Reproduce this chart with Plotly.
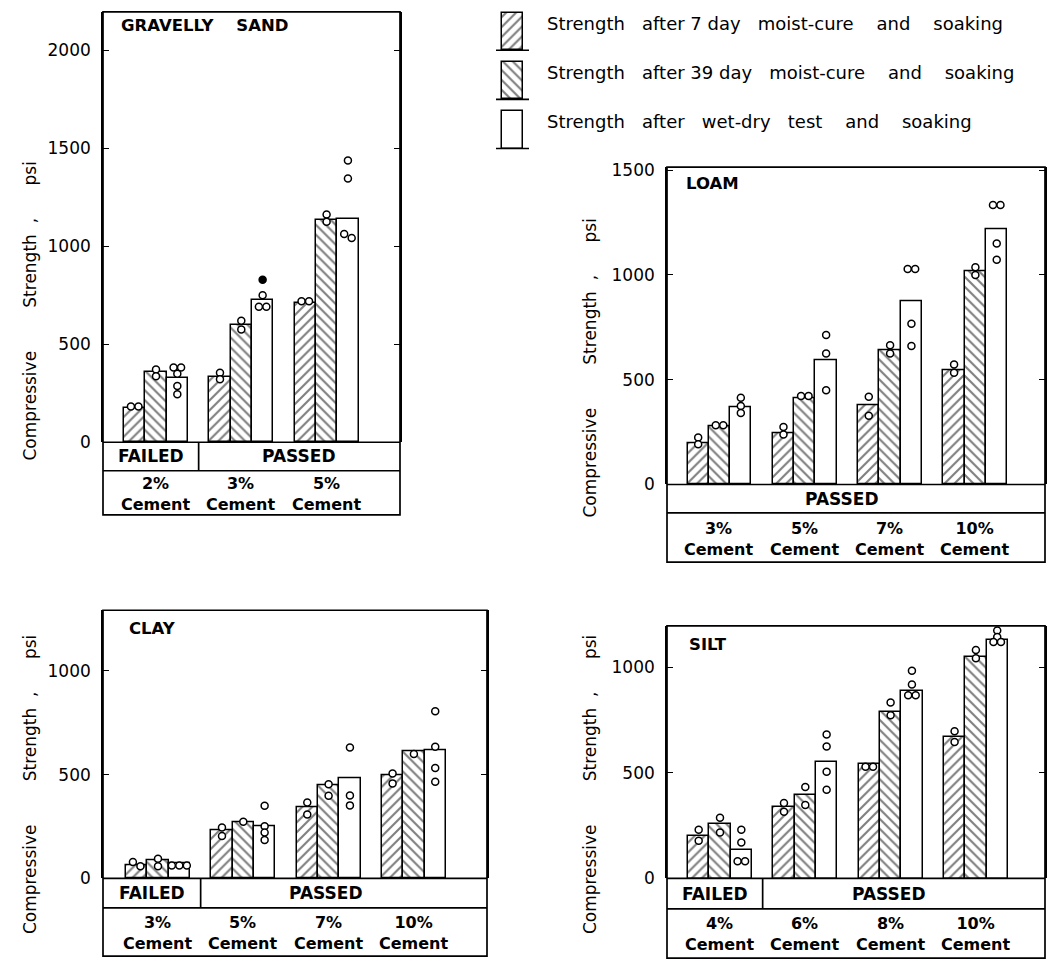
import plotly.graph_objects as go

W, H = 1061, 970

# ---------------- data ----------------
NB = "\u00a0"
legend_labels = [
    f"Strength{NB*3}after 7{NB}day{NB*3}moist-cure{NB*4}and{NB*4}soaking",
    f"Strength{NB*3}after 39{NB}day{NB*3}moist-cure{NB*4}and{NB*4}soaking",
    f"Strength{NB*3}after{NB*3}wet-dry{NB*3}test{NB*4}and{NB*4}soaking",
]
y_title = f"Compressive{NB*8}Strength{NB*2},{NB*6}psi"

gs_name = f"GRAVELLY{NB*4}SAND"
gs_cement = ["2%", "3%", "5%"]
gs_status = ["FAILED", "PASSED", "PASSED"]
gs_ticks = [0, 500, 1000, 1500, 2000]
gs_7d = [175, 332, 712]
gs_39d = [360, 600, 1134]
gs_wd = [327, 728, 1138]
gs_7d_pts = [[182, 182], [355, 322], [720, 720]]
gs_39d_pts = [[371, 337], [620, 575], [1163, 1126]]
gs_wd_pts = [[382, 382, 350, 287, 245], [750, 692, 692], [1439, 1347, 1063, 1043]]
gs_wd_filled = [[], [829], []]

loam_name = "LOAM"
loam_cement = ["3%", "5%", "7%", "10%"]
loam_status = ["PASSED", "PASSED", "PASSED", "PASSED"]
loam_ticks = [0, 500, 1000, 1500]
loam_7d = [197, 244, 380, 547]
loam_39d = [278, 414, 642, 1020]
loam_wd = [367, 591, 877, 1216]
loam_7d_pts = [[224, 192], [274, 239], [419, 328], [572, 533]]
loam_39d_pts = [[283, 283], [422, 422], [664, 625], [1036, 1000]]
loam_wd_pts = [[414, 375, 341], [713, 625, 450], [1028, 1028, 767, 661], [1333, 1333, 1150, 1072]]

clay_name = "CLAY"
clay_cement = ["3%", "5%", "7%", "10%"]
clay_status = ["FAILED", "PASSED", "PASSED", "PASSED"]
clay_ticks = [0, 500, 1000]
clay_7d = [66, 232, 343, 497]
clay_39d = [90, 273, 447, 615]
clay_wd = [74, 252, 485, 620]
clay_7d_pts = [[79, 59], [245, 205], [366, 308], [505, 458]]
clay_39d_pts = [[95, 59], [273], [454, 398], [600]]
clay_wd_pts = [[62, 62, 62], [350, 252, 221, 185], [631, 399, 352], [805, 634, 532, 466]]

silt_name = "SILT"
silt_cement = ["4%", "6%", "8%", "10%"]
silt_status = ["FAILED", "PASSED", "PASSED", "PASSED"]
silt_ticks = [0, 500, 1000]
silt_7d = [203, 340, 545, 673]
silt_39d = [257, 397, 787, 1051]
silt_wd = [133, 553, 891, 1133]
silt_7d_pts = [[231, 179], [358, 316], [530, 530], [698, 647]]
silt_39d_pts = [[288, 218], [433, 348], [834, 774], [1083, 1044]]
silt_wd_pts = [[231, 171, 81, 81], [682, 626, 506, 421], [985, 919, 868, 868], [1175, 1145, 1121, 1121]]

# ---------------- geometry (pixels) ----------------
SPACING = 85.3
panels = [
    dict(name=gs_name, cement=gs_cement, status=gs_status, ticks=gs_ticks,
         bars=[gs_7d, gs_39d, gs_wd], pts=[gs_7d_pts, gs_39d_pts, gs_wd_pts], filled=gs_wd_filled,
         left=103, right=400, top=5, base=443, row1=472, bottom=517, ymax=2197, c0=156,
         title_xy=(119, 19), ytitle_xy=(30, 310), passed_x=299),
    dict(name=loam_name, cement=loam_cement, status=loam_status, ticks=loam_ticks,
         bars=[loam_7d, loam_39d, loam_wd], pts=[loam_7d_pts, loam_39d_pts, loam_wd_pts], filled=None,
         left=667, right=1045, top=163, base=486, row1=515, bottom=565, ymax=1514, c0=719.5,
         title_xy=(684, 180), ytitle_xy=(590, 368), passed_x=842),
    dict(name=clay_name, cement=clay_cement, status=clay_status, ticks=clay_ticks,
         bars=[clay_7d, clay_39d, clay_wd], pts=[clay_7d_pts, clay_39d_pts, clay_wd_pts], filled=None,
         left=103, right=487, top=614, base=887, row1=917, bottom=966, ymax=1292, c0=158,
         title_xy=(127, 633), ytitle_xy=(30, 792), passed_x=326),
    dict(name=silt_name, cement=silt_cement, status=silt_status, ticks=silt_ticks,
         bars=[silt_7d, silt_39d, silt_wd], pts=[silt_7d_pts, silt_39d_pts, silt_wd_pts], filled=None,
         left=667, right=1045, top=630, base=887, row1=918, bottom=968, ymax=1197, c0=720,
         title_xy=(687, 649), ytitle_xy=(590, 792), passed_x=889),
]

FONT = "DejaVu Sans"
BAR_W = 0.25
OFFSETS = [-0.25, 0.0, 0.25]
PATTERNS = ["/", "\\", ""]
MARK = 7.0
PAT_SIZE = 7
PAT_SOLID = 0.3


def fx(px):
    return px / W


def fy(py):
    return 1 - py / H


def spread(vals, xc, ppp):
    """Place points of one bar: near-equal values side by side, others stacked."""
    vs = sorted(vals, reverse=True)
    clusters = []
    for v in vs:
        if clusters and abs(clusters[-1][-1] - v) * ppp < 4.5:
            clusters[-1].append(v)
        else:
            clusters.append([v])
    xs, ys = [], []
    step = (MARK + 0.5) / SPACING
    for c in clusters:
        n = len(c)
        for k, v in enumerate(c):
            xs.append(xc + (k - (n - 1) / 2) * step)
            ys.append(v)
    return xs, ys


fig = go.Figure()
shapes = []
annotations = []
layout_axes = {}

for i, p in enumerate(panels, start=1):
    xa = f"x{i}"
    ya = f"y{i}"
    ppp = (p["base"] - p["top"]) / p["ymax"]
    n = len(p["cement"])
    groups = list(range(n))
    # bars
    for s in range(3):
        pat = dict(shape=PATTERNS[s], fgcolor="black", bgcolor="white", size=PAT_SIZE, solidity=PAT_SOLID)
        fig.add_trace(go.Bar(
            x=[g + OFFSETS[s] for g in groups], y=p["bars"][s], width=BAR_W,
            xaxis=xa, yaxis=ya, showlegend=False,
            marker=dict(color="white", line=dict(color="black", width=1.5), pattern=pat),
        ))
    # individual test points
    for s in range(3):
        for g in groups:
            xs, ys = spread(p["pts"][s][g], g + OFFSETS[s], ppp)
            fig.add_trace(go.Scatter(
                x=xs, y=ys, mode="markers", xaxis=xa, yaxis=ya, showlegend=False,
                marker=dict(symbol="circle", size=MARK, color="white",
                            line=dict(color="black", width=1.5)),
            ))
    if p["filled"]:
        for g in groups:
            if p["filled"][g]:
                fig.add_trace(go.Scatter(
                    x=[g + OFFSETS[2]] * len(p["filled"][g]), y=p["filled"][g], mode="markers",
                    xaxis=xa, yaxis=ya, showlegend=False,
                    marker=dict(symbol="circle", size=MARK, color="black",
                                line=dict(color="black", width=1.5)),
                ))
    # axes
    x0 = (p["left"] - p["c0"]) / SPACING
    x1 = (p["right"] - p["c0"]) / SPACING
    key = "" if i == 1 else str(i)
    layout_axes["xaxis" + key] = dict(
        domain=[fx(p["left"]), fx(p["right"])], range=[x0, x1], anchor=ya,
        showticklabels=False, showgrid=False, zeroline=False, ticks="", showline=False,
        fixedrange=True,
    )
    layout_axes["yaxis" + key] = dict(
        domain=[fy(p["base"]), fy(p["top"])], range=[0, p["ymax"]], anchor=xa,
        tickvals=p["ticks"], ticktext=[str(t) for t in p["ticks"]],
        ticks="inside", ticklen=6, tickwidth=1.3, tickcolor="black",
        showline=True, linecolor="black", linewidth=1.6, mirror="ticks",
        showgrid=False, zeroline=False, ticklabelstandoff=7,
        tickfont=dict(family=FONT, size=17, color="black"), fixedrange=True,
    )
    # frame + table
    L, R = fx(p["left"]), fx(p["right"])
    line = dict(color="black", width=1.7)
    shapes.append(dict(type="rect", xref="paper", yref="paper", x0=L, x1=R,
                       y0=fy(p["bottom"]), y1=fy(p["top"]), line=line))
    for yy in (p["base"], p["row1"]):
        shapes.append(dict(type="line", xref="paper", yref="paper", x0=L, x1=R,
                           y0=fy(yy), y1=fy(yy), line=line))
    centers = [p["c0"] + g * SPACING for g in groups]
    n_failed = sum(1 for st in p["status"] if st == "FAILED")
    if n_failed:
        div = (centers[n_failed - 1] + centers[n_failed]) / 2
        shapes.append(dict(type="line", xref="paper", yref="paper", x0=fx(div), x1=fx(div),
                           y0=fy(p["row1"]), y1=fy(p["base"]), line=line))
        annotations.append(dict(text="FAILED", x=fx((p["left"] + div) / 2),
                                y=fy((p["base"] + p["row1"]) / 2), size=17))
    annotations.append(dict(text="PASSED", x=fx(p["passed_x"]), y=fy((p["base"] + p["row1"]) / 2),
                            size=17))
    for g in groups:
        annotations.append(dict(text=f"{p['cement'][g]}<br>Cement", x=fx(centers[g]),
                                y=fy((p["row1"] + p["bottom"]) / 2 + 1)))
    annotations.append(dict(text=p["name"], x=fx(p["title_xy"][0]), y=fy(p["title_xy"][1]),
                            xanchor="left", size=16.5))
    annotations.append(dict(text=y_title, x=fx(p["ytitle_xy"][0]), y=fy(p["ytitle_xy"][1]),
                            textangle=-90, size=17, weight="normal"))

# legend icons drawn as bars in a small auxiliary axis (units = pixels)
icon_tops = [6, 56, 106]
icon_h = 38
for s in range(3):
    fig.add_trace(go.Bar(
        x=[0], y=[-icon_h], base=[icon_tops[s] + icon_h], width=[21],
        xaxis="x5", yaxis="y5", showlegend=False,
        marker=dict(color="white", line=dict(color="black", width=1.5),
                    pattern=dict(shape=PATTERNS[s], fgcolor="black", bgcolor="white",
                                 size=PAT_SIZE, solidity=PAT_SOLID)),
    ))
    yb = icon_tops[s] + icon_h
    shapes.append(dict(type="line", xref="paper", yref="paper", x0=fx(496), x1=fx(529),
                       y0=fy(yb), y1=fy(yb), line=dict(color="black", width=1.7)))
    annotations.append(dict(text=legend_labels[s], x=fx(545), y=fy(icon_tops[s] + 11),
                            xanchor="left", size=18, weight="normal"))

layout_axes["xaxis5"] = dict(domain=[fx(490), fx(534)], range=[-22, 22], anchor="y5", visible=False,
                             fixedrange=True)
layout_axes["yaxis5"] = dict(domain=[fy(150), fy(2)], range=[150, 2], anchor="x5", visible=False,
                             fixedrange=True)

ann_objs = []
for a in annotations:
    size = a.pop("size", 16)
    weight = a.pop("weight", "bold")
    base = dict(xref="paper", yref="paper", showarrow=False, xanchor="center", yanchor="middle",
                font=dict(family=FONT, size=size, color="black", weight=weight))
    base.update(a)
    ann_objs.append(base)

fig.update_layout(
    width=W, height=H, margin=dict(l=0, r=0, t=0, b=0, pad=0),
    paper_bgcolor="white", plot_bgcolor="rgba(0,0,0,0)",
    barmode="overlay", bargap=0, showlegend=False,
    shapes=shapes, annotations=ann_objs,
    **layout_axes,
)

fig.write_html("out.html", config={"displayModeBar": False},
               post_script="document.body.style.margin='0px';document.body.style.overflow='hidden';")
